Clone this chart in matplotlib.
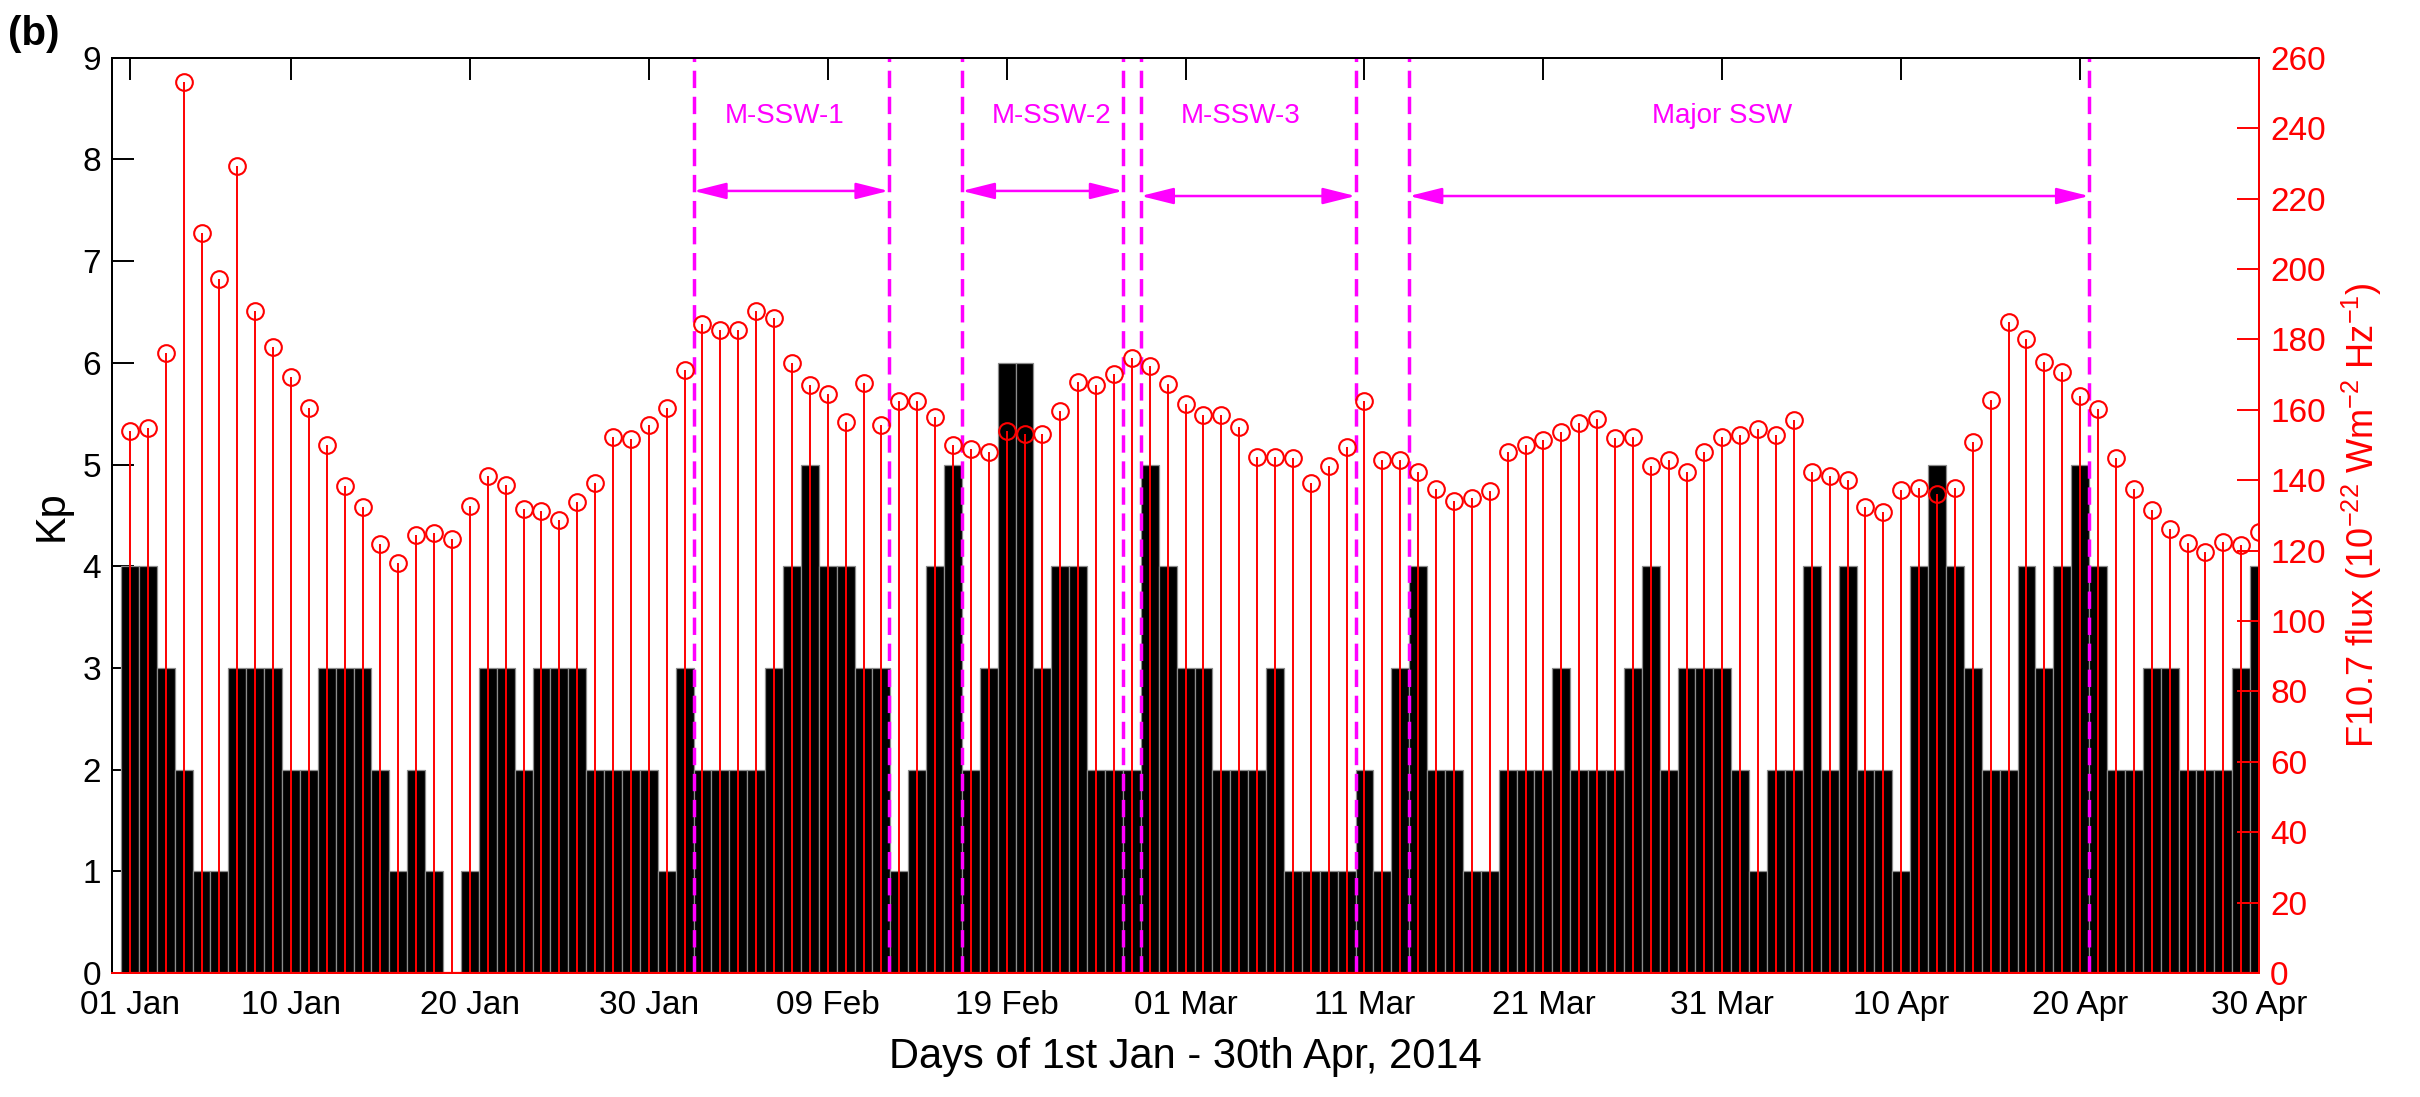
import numpy as np
import matplotlib
matplotlib.use('Agg')
import matplotlib.pyplot as plt

plt.rcParams['font.family'] = ['Liberation Sans', 'DejaVu Sans']
plt.rcParams['mathtext.fontset'] = 'custom'
plt.rcParams['mathtext.rm'] = 'Liberation Sans'
plt.rcParams['mathtext.default'] = 'regular'

# day of year, 1 Jan - 30 Apr 2014
days = np.arange(1, 121)

# daily Kp
kp = [4, 4, 3, 2, 1, 1, 3, 3, 3, 2, 2, 3, 3, 3, 2, 1, 2, 1, 0, 1,
      3, 3, 2, 3, 3, 3, 2, 2, 2, 2, 1, 3, 2, 2, 2, 2, 3, 4, 5, 4,
      4, 3, 3, 1, 2, 4, 5, 2, 3, 6, 6, 3, 4, 4, 2, 2, 2, 5, 4, 3,
      3, 2, 2, 2, 3, 1, 1, 1, 1, 2, 1, 3, 4, 2, 2, 1, 1, 2, 2, 2,
      3, 2, 2, 2, 3, 4, 2, 3, 3, 3, 2, 1, 2, 2, 4, 2, 4, 2, 2, 1,
      4, 5, 4, 3, 2, 2, 4, 3, 4, 5, 4, 2, 2, 3, 3, 2, 2, 2, 3, 4]

# daily F10.7 flux
f107 = [154.0, 154.9, 176.1, 253.2, 210.1, 197.0, 229.2, 188.0, 177.9, 169.2,
        160.5, 150.0, 138.4, 132.3, 121.8, 116.6, 124.4, 125.0, 123.2, 132.8,
        141.3, 138.7, 131.9, 131.1, 128.8, 133.7, 139.2, 152.3, 151.8, 155.6,
        160.6, 171.4, 184.3, 182.7, 182.7, 188.0, 186.2, 173.2, 167.1, 164.5,
        156.6, 167.6, 155.8, 162.4, 162.4, 158.0, 150.0, 148.8, 147.9, 154.0,
        153.2, 153.2, 159.6, 167.9, 167.1, 170.2, 174.6, 172.3, 167.4, 161.5,
        158.4, 158.4, 155.2, 146.7, 146.7, 146.2, 139.2, 143.9, 149.3, 162.4,
        145.7, 145.7, 142.2, 137.5, 134.0, 134.9, 137.0, 147.9, 150.0, 151.4,
        153.7, 156.1, 157.5, 151.9, 152.3, 143.9, 145.7, 142.2, 147.9, 152.3,
        152.8, 154.4, 152.8, 157.0, 142.2, 141.3, 140.1, 132.3, 130.9, 137.1,
        137.8, 136.1, 137.8, 150.9, 162.7, 185.0, 180.1, 173.5, 170.6, 163.9,
        160.1, 146.2, 137.5, 131.4, 126.2, 122.2, 119.6, 122.3, 121.5, 125.3]

tick_days = [1, 10, 20, 30, 40, 50, 60, 70, 80, 90, 100, 110, 120]
tick_labels = ['01 Jan', '10 Jan', '20 Jan', '30 Jan', '09 Feb', '19 Feb', '01 Mar',
               '11 Mar', '21 Mar', '31 Mar', '10 Apr', '20 Apr', '30 Apr']

# SSW event windows
event_names = ['M-SSW-1', 'M-SSW-2', 'M-SSW-3', 'Major SSW']
event_start = [32.5, 47.5, 57.5, 72.5]
event_end = [43.4, 56.5, 69.5, 110.5]
label_x = [37.6, 52.5, 63.1, 90.0]
arrow_y = [7.69, 7.69, 7.64, 7.64]

mag = '#ff00ff'

fig = plt.figure(figsize=(24.2, 10.97), dpi=100)
ax = fig.add_axes([0.0463, 0.1130, 0.8872, 0.8344])

ax.bar(days, kp, width=1.0, color='black', edgecolor='#8c8c8c', linewidth=0.9, zorder=2)
ax.set_xlim(0, 120)
ax.set_ylim(0, 9)
ax.set_yticks(range(0, 10))
ax.set_xticks(tick_days)
ax.set_xticklabels(tick_labels)
ax.tick_params(direction='in', length=16, width=1.4, top=True, right=True, labelsize=24)
ax.tick_params(axis='x', pad=12)
ax.tick_params(axis='y', pad=8)
ax.set_xlabel('Days of 1st Jan - 30th Apr, 2014', fontsize=30, labelpad=12)
ax.set_ylabel('Kp', fontsize=30, labelpad=8)
for s in ax.spines.values():
    s.set_linewidth(1.4)

# event boundaries, arrows and names
for x in event_start + event_end:
    ax.axvline(x, color=mag, lw=2.5, ls=(0, (5, 2.5)), zorder=5)
for name, x0, x1, xl, ya in zip(event_names, event_start, event_end, label_x, arrow_y):
    ax.annotate('', xy=(x1, ya), xytext=(x0, ya),
                arrowprops=dict(arrowstyle='<|-|>,head_length=2.0,head_width=0.5',
                                color=mag, lw=1.8, shrinkA=0, shrinkB=0), zorder=6)
    ax.text(xl, 8.43, name, color=mag, fontsize=20, ha='center', va='center')

ax2 = ax.twinx()
markerline, stemlines, baseline = ax2.stem(days, f107, linefmt='r-', markerfmt='ro', basefmt='r-')
plt.setp(markerline, markerfacecolor='none', markeredgecolor='red', markersize=12, markeredgewidth=1.5)
plt.setp(stemlines, linewidth=1.4, color='red')
plt.setp(baseline, linewidth=1.6, color='red')
ax2.set_ylim(0, 260)
ax2.set_yticks(range(0, 261, 20))
ax2.tick_params(axis='y', colors='red', direction='in', length=16, width=1.4, labelsize=24, pad=8)
ax2.spines['right'].set_color('red')
ax2.spines['bottom'].set_color('red')
ax2.spines['top'].set_color('black')
ax2.spines['left'].set_color('black')
for s in ax2.spines.values():
    s.set_linewidth(1.4)
ax2.set_ylabel(r'F10.7 flux (10$^{-22}$ Wm$^{-2}$ Hz$^{-1}$)', color='red', fontsize=26, labelpad=10)

fig.text(0.0035, 0.969, '(b)', fontsize=29, fontweight='bold', ha='left', va='center')

plt.savefig('out.png', dpi=100)
